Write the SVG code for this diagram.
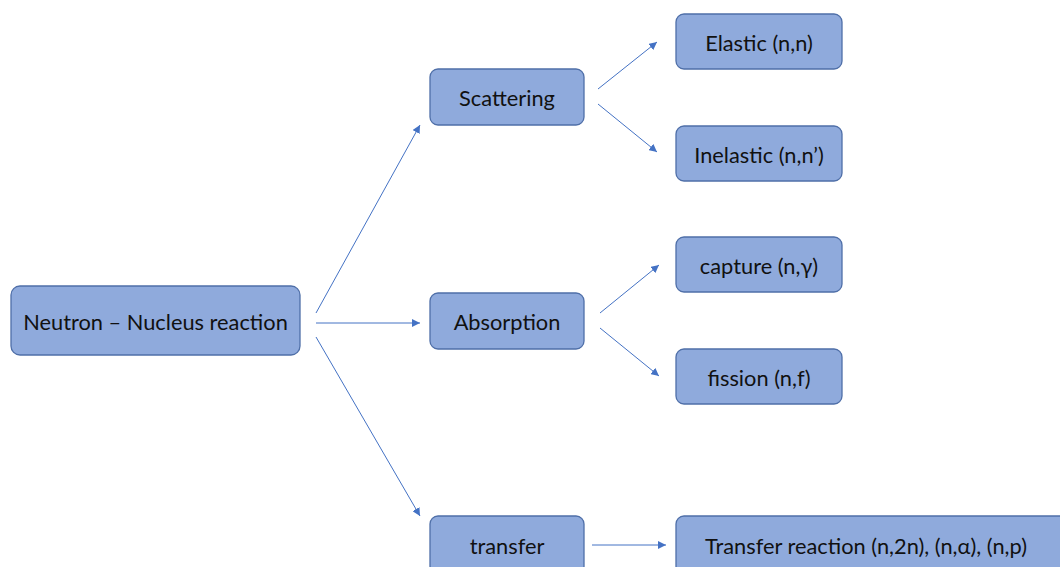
<svg xmlns="http://www.w3.org/2000/svg" width="1060" height="567" viewBox="0 0 1060 567">
<defs>
<style>
.n{fill:#8faadc;stroke:#4f6fa8;stroke-width:1.3}
.t{font-family:Lato,"Open Sans","Liberation Sans",sans-serif;font-size:21.8px;fill:#111;text-anchor:middle;dominant-baseline:central}
.c{stroke:#4472c4;stroke-width:1;fill:none;marker-end:url(#ah)}
</style>
<marker id="ah" viewBox="0 0 10 10" refX="10" refY="5" markerWidth="8" markerHeight="8" markerUnits="userSpaceOnUse" orient="auto">
<path d="M0,0 L10,5 L0,10 z" fill="#4472c4"/>
</marker>
</defs>
<rect width="1060" height="567" fill="#fff"/>
<g id="connectors">
<line class="c" x1="316" y1="313" x2="420" y2="125"/>
<line class="c" x1="316" y1="323" x2="420" y2="323"/>
<line class="c" x1="316" y1="337" x2="420" y2="516"/>
<line class="c" x1="598" y1="89" x2="657" y2="42"/>
<line class="c" x1="598" y1="104" x2="657" y2="152"/>
<line class="c" x1="600" y1="313" x2="659" y2="265"/>
<line class="c" x1="600" y1="328" x2="659" y2="376"/>
<line class="c" x1="592" y1="545" x2="666" y2="545"/>
</g>
<g id="main"><rect class="n" x="11" y="286" width="289" height="69" rx="9"/><text class="t" x="155.5" y="321">Neutron – Nucleus reaction</text></g>
<g id="scattering"><rect class="n" x="430" y="69" width="154" height="56" rx="8"/><text class="t" x="507" y="97">Scattering</text></g>
<g id="absorption"><rect class="n" x="430" y="293" width="154" height="56" rx="8"/><text class="t" x="507" y="321">Absorption</text></g>
<g id="transfer"><rect class="n" x="430" y="516" width="154" height="58" rx="8"/><text class="t" x="507" y="545">transfer</text></g>
<g id="elastic"><rect class="n" x="676" y="14" width="166" height="55" rx="8"/><text class="t" x="759" y="42">Elastic (n,n)</text></g>
<g id="inelastic"><rect class="n" x="676" y="126" width="166" height="55" rx="8"/><text class="t" x="759" y="154">Inelastic (n,n’)</text></g>
<g id="capture"><rect class="n" x="676" y="237" width="166" height="55" rx="8"/><text class="t" x="759" y="265">capture (n,γ)</text></g>
<g id="fission"><rect class="n" x="676" y="349" width="166" height="55" rx="8"/><text class="t" x="759" y="377">fission (n,f)</text></g>
<g id="transfer-reaction"><rect class="n" x="676" y="516" width="392" height="58" rx="8"/><text class="t" x="866" y="545">Transfer reaction (n,2n), (n,α), (n,p)</text></g>
</svg>
